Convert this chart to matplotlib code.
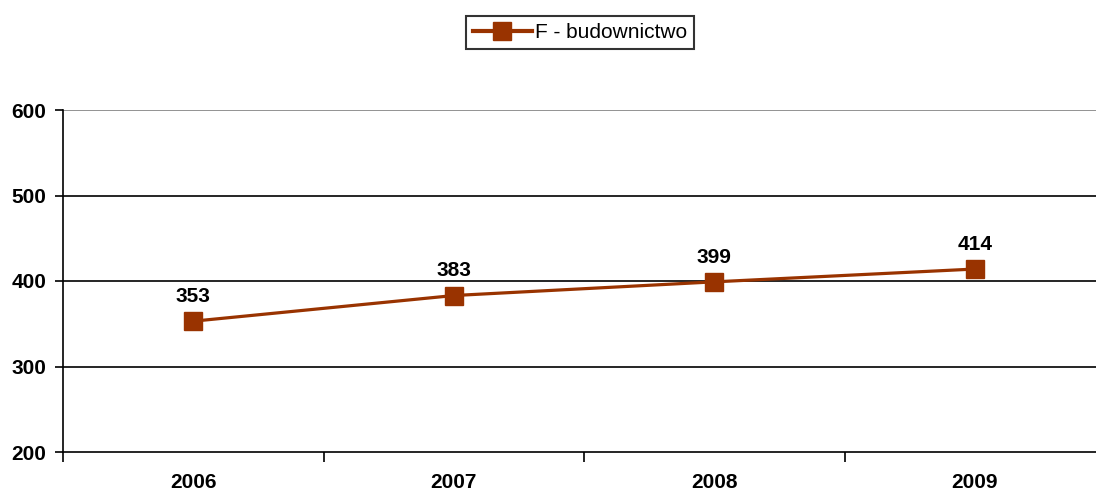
import matplotlib
matplotlib.use("Agg")
import matplotlib.pyplot as plt
from matplotlib.lines import Line2D

years = ["2006", "2007", "2008", "2009"]
values = [353, 383, 399, 414]
series_name = "F - budownictwo"
yticks = [200, 300, 400, 500, 600]

plt.rcParams['font.family'] = ['Liberation Sans', 'DejaVu Sans']
color = "#993300"

W, H = 1096, 492
fig = plt.figure(figsize=(W/100, H/100), dpi=100)
left, right = 63, 1105
top, bottom = 110, 452
ax = fig.add_axes([left/W, 1-bottom/H, (right-left)/W, (bottom-top)/H])

x = list(range(len(years)))
ax.set_xlim(-0.5, len(years)-0.5)
ax.set_ylim(200, 600)

for yv in yticks[1:]:
    ax.axhline(yv, color="#808080" if yv == 600 else "black", lw=1.2, zorder=1)

ax.plot(x, values, color=color, lw=2.3, marker="s", markersize=13.5,
        markerfacecolor=color, markeredgecolor=color, zorder=3, clip_on=False)
for xi, v in zip(x, values):
    ax.annotate(str(v), (xi, v), xytext=(0, 11), textcoords="offset points",
                ha="center", va="bottom", fontsize=15, fontweight="bold")

for s in ["top", "right"]:
    ax.spines[s].set_visible(False)
ax.spines["left"].set_linewidth(1.2)
ax.spines["bottom"].set_linewidth(1.2)

ax.set_yticks(yticks)
ax.set_yticklabels([str(t) for t in yticks], fontsize=15, fontweight="bold")
ax.tick_params(axis="y", direction="out", length=5.5, width=1.2, pad=6.5)

ax.set_xticks([i - 0.5 for i in range(len(years)+1)])
ax.set_xticklabels([""] * (len(years)+1))
ax.tick_params(axis="x", direction="out", length=7, width=1.2)
ax.set_xticks(x, minor=True)
ax.set_xticklabels(years, minor=True, fontsize=15, fontweight="bold")
ax.tick_params(axis="x", which="minor", length=0, pad=15)

handle = Line2D([], [], color=color, lw=3, marker="s", markersize=13,
                markerfacecolor=color, markeredgecolor=color)
leg = fig.legend([handle], [series_name], loc="center left",
                 bbox_to_anchor=(466/W, 1-32.5/H), fontsize=15,
                 frameon=True, fancybox=False, edgecolor="black",
                 handlelength=2.8, handletextpad=0.15, borderpad=0.35,
                 borderaxespad=0)
leg.get_frame().set_linewidth(1.5)

fig.savefig("out.png", dpi=100)
